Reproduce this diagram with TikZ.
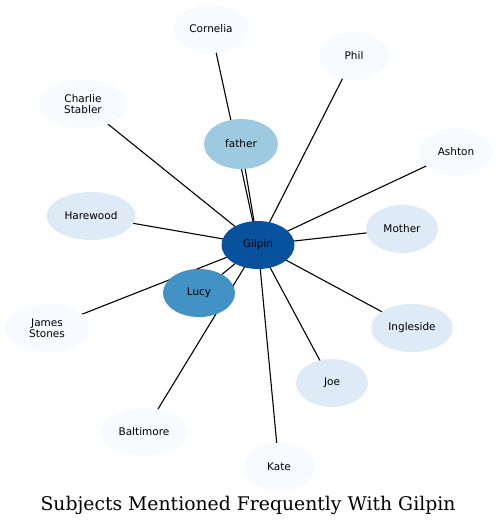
\documentclass[tikz,border=0pt]{standalone}
\usepackage{fontspec}
\newfontfamily\labelfont{DejaVu Sans}
\newfontfamily\titlefont{DejaVu Serif}
\usetikzlibrary{shapes.geometric,backgrounds}
\definecolor{bA}{HTML}{F7FBFF}
\definecolor{bB}{HTML}{DEEBF7}
\definecolor{bC}{HTML}{9ECAE1}
\definecolor{bD}{HTML}{4292C6}
\definecolor{bE}{HTML}{08519C}
\tikzset{
  ent/.style={ellipse, inner sep=0pt, minimum height=48pt, minimum width=72pt,
    font=\labelfont\fontsize{10.5}{12}\selectfont, text=black, align=center},
  link/.style={draw=black, line width=1.1pt},
}
\begin{document}
\begin{tikzpicture}[x=1pt,y=1pt]
\useasboundingbox (0,0) rectangle (498,-527);
\node[ent, fill=bA, minimum width=75pt] (cornelia) at (211,-29) {Cornelia};
\node[ent, fill=bA, minimum width=71pt] (phil) at (354,-56) {Phil};
\node[ent, fill=bA, minimum width=88pt, minimum height=49pt] (charlie) at (83,-104) {Charlie\\[-1pt]Stabler};
\node[ent, fill=bC, minimum width=74pt, minimum height=50pt] (father) at (241,-144) {father};
\node[ent, fill=bA, minimum width=73pt] (ashton) at (456,-152) {Ashton};
\node[ent, fill=bB, minimum width=89pt] (harewood) at (91,-216) {Harewood};
\node[ent, fill=bB, minimum width=72pt] (mother) at (402,-229) {Mother};
\node[ent, fill=bE, minimum width=73pt] (gilpin) at (258,-245) {Gilpin};
\node[ent, fill=bD, minimum width=72pt] (lucy) at (199,-293) {Lucy};
\node[ent, fill=bA, minimum width=85pt, minimum height=49pt] (james) at (47,-328) {James\\[-1pt]Stones};
\node[ent, fill=bB, minimum width=82pt] (ingleside) at (412,-328) {Ingleside};
\node[ent, fill=bB, minimum width=72pt] (joe) at (332,-383) {Joe};
\node[ent, fill=bA, minimum width=86pt] (baltimore) at (144,-432) {Baltimore};
\node[ent, fill=bA, minimum width=72pt] (kate) at (279,-467) {Kate};
\begin{pgfonlayer}{background}
\foreach \n in {cornelia,phil,charlie,father,ashton,harewood,mother,lucy,james,ingleside,joe,baltimore,kate}
  \draw[link] (gilpin.center) -- (\n.center);
\end{pgfonlayer}
\node[font=\titlefont\fontsize{18.8}{22}\selectfont, anchor=base, inner sep=0pt] (title) at (248,-510) {Subjects Mentioned Frequently With Gilpin};
\end{tikzpicture}
\end{document}
